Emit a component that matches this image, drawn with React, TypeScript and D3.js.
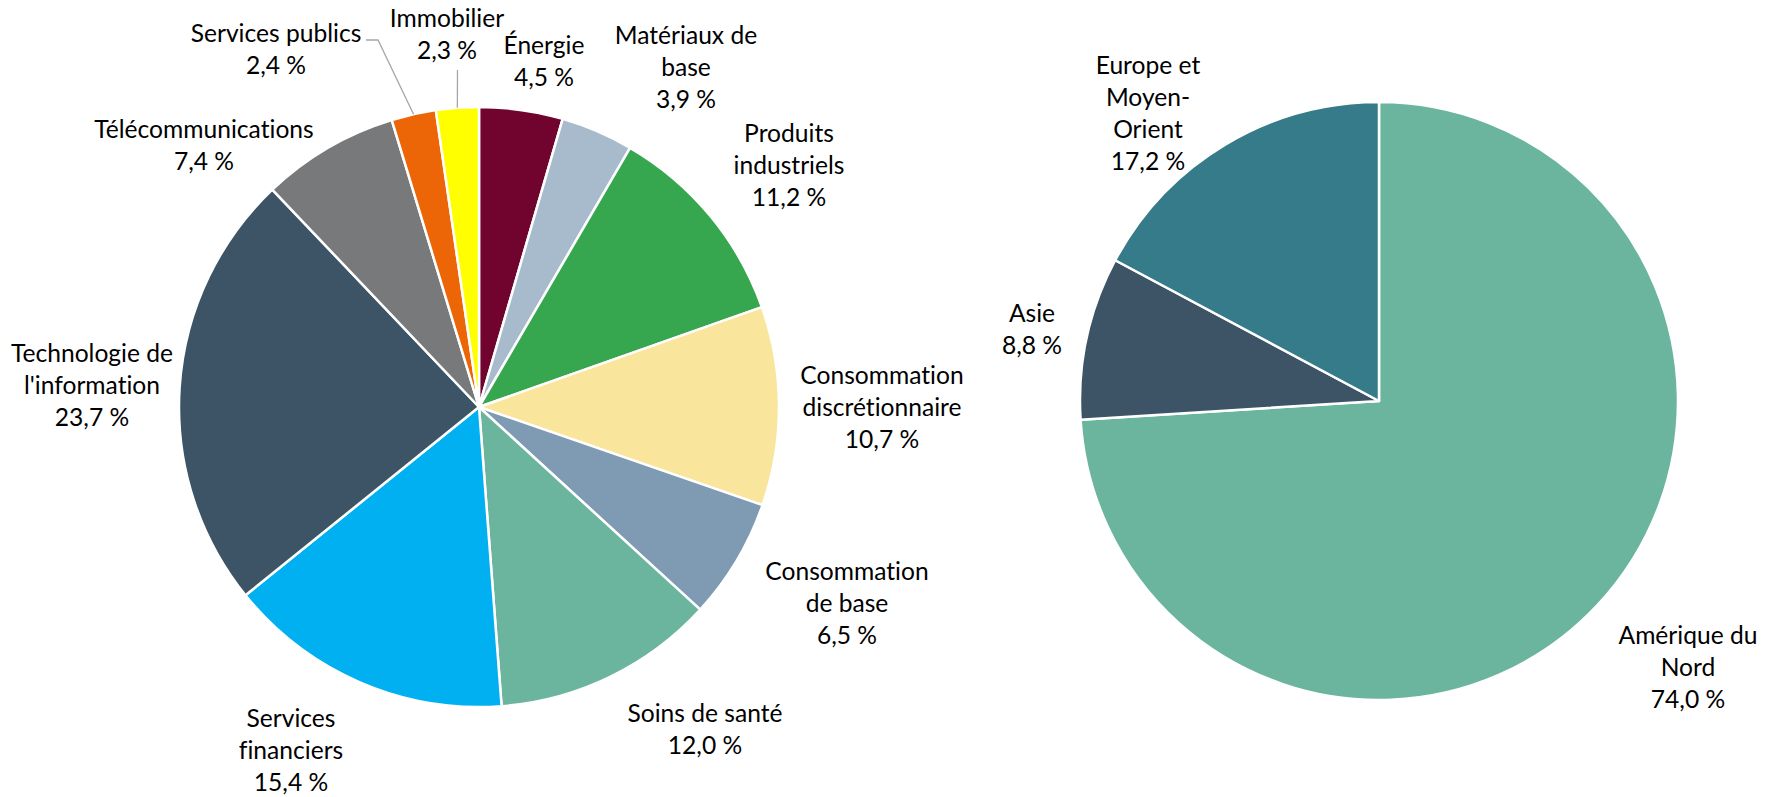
import React from 'react';
import * as d3 from 'd3';

// ---- Data ----
const sectorNames = [
  'Énergie', 'Matériaux de base', 'Produits industriels', 'Consommation discrétionnaire',
  'Consommation de base', 'Soins de santé', 'Services financiers',
  "Technologie de l'information", 'Télécommunications', 'Services publics', 'Immobilier',
];
const sectorValues = [4.5, 3.9, 11.2, 10.7, 6.5, 12.0, 15.4, 23.7, 7.4, 2.4, 2.3];
const sectorLabelLines = [
  ['Énergie'], ['Matériaux de', 'base'], ['Produits', 'industriels'],
  ['Consommation', 'discrétionnaire'], ['Consommation', 'de base'], ['Soins de santé'],
  ['Services', 'financiers'], ['Technologie de', "l'information"], ['Télécommunications'],
  ['Services publics'], ['Immobilier'],
];

const regionNames = ['Amérique du Nord', 'Asie', 'Europe et Moyen-Orient'];
const regionValues = [74.0, 8.8, 17.2];
const regionLabelLines = [['Amérique du', 'Nord'], ['Asie'], ['Europe et', 'Moyen-', 'Orient']];

// ---- Styles ----
const sectorColors = [
  '#70042F', '#A8BBCC', '#37A74F', '#F9E59B', '#7E9BB3', '#6BB59F',
  '#00B0F0', '#3D5467', '#78797B', '#EC6608', '#FFFF00',
];
const regionColors = ['#6BB59F', '#3D5467', '#367B89'];

// ---- Layout ----
const W = 1777;
const H = 797;
const FONT = 'Lato, sans-serif';
const FONT_SIZE = 24.6;
const LINE_H = 32;
const LEFT = { cx: 479, cy: 407, r: 300 };
const RIGHT = { cx: 1379, cy: 401, r: 299 };
// label block centres relative to pie centre
const sectorLabelOffsets = [
  [65, -346], [207, -340], [310, -242], [403, 0], [368, 196], [226, 322],
  [-188, 343], [-387, -22], [-275, -262], [-203, -358], [-32, -373],
];
const regionLabelOffsets = [[309, 266], [-347, -72], [-231, -288]];
// leader lines (start points relative to pie centre) for small slices
const sectorLeaders: Record<number, number[][]> = {
  9: [[-113, -367], [-101, -367]],
  10: [[-21.5, -337]],
};

const fmt = (v: number) => `${v.toFixed(1).replace('.', ',')}\u00A0%`;

type PieProps = {
  cfg: { cx: number; cy: number; r: number };
  values: number[];
  names: string[];
  colors: string[];
  lines: string[][];
  offsets: number[][];
  leaders?: Record<number, number[][]>;
};

function Pie({ cfg, values, names, colors, lines, offsets, leaders = {} }: PieProps) {
  const pie = d3.pie<number>().sort(null).value((d) => d)(values);
  const arc = d3.arc<d3.PieArcDatum<number>>().innerRadius(0).outerRadius(cfg.r);
  return (
    <g transform={`translate(${cfg.cx},${cfg.cy})`}>
      {pie.map((p, i) => (
        <path key={names[i]} d={arc(p) || ''} fill={colors[i]} stroke="#FFFFFF" strokeWidth={2.5} strokeLinejoin="round" />
      ))}
      {pie.map((p, i) => {
        const pts = leaders[i];
        if (!pts) return null;
        const a = (p.startAngle + p.endAngle) / 2;
        const end = [cfg.r * Math.sin(a), -cfg.r * Math.cos(a)];
        const all = [...pts, end];
        return (
          <polyline key={'l' + i} points={all.map((q) => q.join(',')).join(' ')} fill="none" stroke="#A6A6A6" strokeWidth={1.3} />
        );
      })}
      {pie.map((p, i) => {
        const txt = [...lines[i], fmt(values[i])];
        const [dx, dy] = offsets[i];
        const n = txt.length;
        return (
          <text key={'t' + i} textAnchor="middle" fontFamily={FONT} fontSize={FONT_SIZE} fill="#000000"
            style={{ fontVariantLigatures: 'none', fontFeatureSettings: '"liga" 0, "clig" 0' }}>
            {txt.map((t, j) => (
              <tspan key={j} x={dx} y={dy + (j - (n - 1) / 2) * LINE_H} dy="0.35em">{t}</tspan>
            ))}
          </text>
        );
      })}
    </g>
  );
}

export default function App() {
  return (
    <svg width={W} height={H} viewBox={`0 0 ${W} ${H}`} style={{ position: 'absolute', left: 0, top: 0, background: '#FFFFFF' }}>
      <rect x={0} y={0} width={W} height={H} fill="#FFFFFF" />
      <Pie cfg={LEFT} values={sectorValues} names={sectorNames} colors={sectorColors} lines={sectorLabelLines} offsets={sectorLabelOffsets} leaders={sectorLeaders} />
      <Pie cfg={RIGHT} values={regionValues} names={regionNames} colors={regionColors} lines={regionLabelLines} offsets={regionLabelOffsets} />
    </svg>
  );
}
